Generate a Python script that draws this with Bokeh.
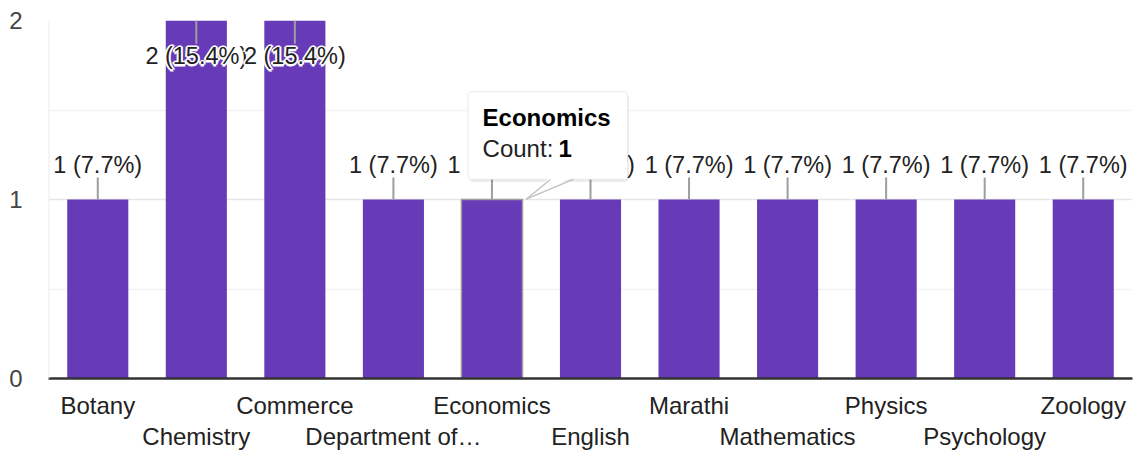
from bokeh.plotting import figure
from bokeh.models import (Range1d, FixedTicker, LinearAxis, Span, BoxAnnotation,
                          PolyAnnotation, Label, Arrow, ColumnDataSource, CDSView, IndexFilter)
from bokeh.core.properties import value
from bokeh.embed import file_html
from bokeh.resources import INLINE

# ---- data ----
categories = ["Botany", "Chemistry", "Commerce", "Department of…", "Economics",
              "English", "Marathi", "Mathematics", "Physics", "Psychology", "Zoology"]
counts = [1, 2, 2, 1, 1, 1, 1, 1, 1, 1, 1]
y_ticks = [0, 1, 2]
highlight = "Economics"

# ---- style ----
FONT = "Liberation Sans"
PURPLE = "#673ab7"
FS = "24px"
FS_LBL = "23.5px"

n = len(categories)
total = sum(counts)
xc = [i + 0.5 for i in range(n)]
pct = [f"{c} ({c / total * 100:.1f}%)" for c in counts]
ymax = max(y_ticks)

inside = [c >= ymax for c in counts]
ly1 = [c - 0.13 if ins else c + 0.123 for c, ins in zip(counts, inside)]
ty = [c - 0.20 if ins else c + 0.19 for c, ins in zip(counts, inside)]
hl_alpha = [1.0 if cat == highlight else 0.0 for cat in categories]

src = ColumnDataSource(dict(x=xc, top=counts, lbl=pct, ly0=counts, ly1=ly1, ty=ty,
                            la=hl_alpha))

p = figure(width=1136, height=452, x_range=Range1d(0, n), y_range=Range1d(0, ymax),
           output_backend="svg", toolbar_location=None,
           min_border_left=48, min_border_right=4, min_border_top=20, min_border_bottom=0)
p.outline_line_color = None
p.background_fill_color = "white"
p.border_fill_color = "white"

# grid
p.xgrid.visible = False
p.ygrid.ticker = FixedTicker(ticks=[t for t in y_ticks if t > 0], minor_ticks=[0.5, 1.5])
p.ygrid.grid_line_color = "#e6e6e6"
p.ygrid.grid_line_width = 1.6
p.ygrid.minor_grid_line_color = "#f2f2f2"
p.ygrid.minor_grid_line_width = 1.6
p.add_layout(Span(location=0, dimension="height", line_color="#ebebeb", line_width=2))

# y axis
ya = p.yaxis[0]
ya.ticker = FixedTicker(ticks=y_ticks)
ya.axis_line_color = None
ya.major_tick_line_color = None
ya.minor_tick_line_color = None
ya.major_tick_out = 0
ya.major_tick_in = 0
ya.major_label_standoff = 26
ya.major_label_text_font = FONT
ya.major_label_text_font_size = FS
ya.major_label_text_color = "#444444"

# x axes (staggered labels)
def style_x(ax, standoff):
    ax.major_tick_line_color = None
    ax.minor_tick_line_color = None
    ax.major_tick_out = 0
    ax.major_tick_in = 0
    ax.minor_tick_out = 0
    ax.minor_tick_in = 0
    ax.major_label_standoff = standoff
    ax.major_label_text_font = FONT
    ax.major_label_text_font_size = FS
    ax.major_label_text_color = "#222222"

xa = p.xaxis[0]
xa.ticker = FixedTicker(ticks=xc[0::2])
xa.major_label_overrides = {xc[i]: categories[i] for i in range(0, n, 2)}
xa.axis_line_color = "#333333"
xa.axis_line_width = 2.5
style_x(xa, 13)

xb = LinearAxis(ticker=FixedTicker(ticks=xc[1::2]),
                major_label_overrides={xc[i]: categories[i] for i in range(1, n, 2)})
xb.axis_line_color = None
style_x(xb, 1)
p.add_layout(xb, "below")

# bars
p.vbar(x="x", top="top", width=0.62, source=src, fill_color=PURPLE,
       line_color="#9e9e9e", line_alpha="la", line_width=1.5)

# leader lines
p.segment(x0="x", y0="ly0", x1="x", y1="ly1", source=src, line_color="#9e9e9e", line_width=2)

# value labels with white halo, drawn label by label so later halos cover earlier text
txt = dict(x="x", y="ty", text="lbl", source=src, text_align="center",
           text_baseline="alphabetic", text_font=value(FONT), text_font_size=FS_LBL)
for i in range(n):
    view = CDSView(filter=IndexFilter(indices=[i]))
    for dx, dy in [(-1.5, 0), (1.5, 0), (0, -1.5), (0, 1.5), (0, 0)]:
        p.text(**txt, view=view, x_offset=dx, y_offset=dy, text_color="white",
               text_outline_color="white")
    p.text(**txt, view=view, text_color="#222222")

# tooltip for highlighted bar
ih = categories.index(highlight)
ch = counts[ih]
bx0, bx1 = ih + 0.257, ih + 1.877
by0, by1 = ch + 0.112, ch + 0.603
p.add_layout(BoxAnnotation(left=bx0 + 0.012, right=bx1 + 0.012, bottom=by0 - 0.014, top=by1 - 0.014,
                           fill_color="black", fill_alpha=0.07, line_color=None, border_radius=4))
p.add_layout(BoxAnnotation(left=bx0, right=bx1, bottom=by0, top=by1, fill_color="white",
                           fill_alpha=1.0, line_color="#c6c6c6", line_width=1.3, border_radius=4))
tip_x, tip_y = ih + 0.848, ch + 0.002
bl, br = ih + 1.092, ih + 1.325
p.add_layout(PolyAnnotation(xs=[bl + 0.004, br - 0.004, tip_x], ys=[by0 + 0.015, by0 + 0.015, tip_y + 0.004],
                            fill_color="white", fill_alpha=1.0, line_color=None))
p.add_layout(Arrow(end=None, x_start=bl, y_start=by0, x_end=tip_x, y_end=tip_y,
                   line_color="#c0c0c0", line_width=1.3))
p.add_layout(Arrow(end=None, x_start=br, y_start=by0, x_end=tip_x, y_end=tip_y,
                   line_color="#c0c0c0", line_width=1.3))
lab = dict(text_font=FONT, text_font_size=FS, text_baseline="alphabetic", text_align="left")
p.add_layout(Label(x=ih + 0.405, y=ch + 0.458, text=highlight, text_font_style="bold",
                   text_color="#000000", **lab))
p.add_layout(Label(x=ih + 0.405, y=ch + 0.285, text="Count: ", text_color="#222222", **lab))
p.add_layout(Label(x=ih + 1.175, y=ch + 0.285, text=str(ch), text_font_style="bold",
                   text_color="#000000", **lab))

open("out.html", "w").write(file_html(p, INLINE))
